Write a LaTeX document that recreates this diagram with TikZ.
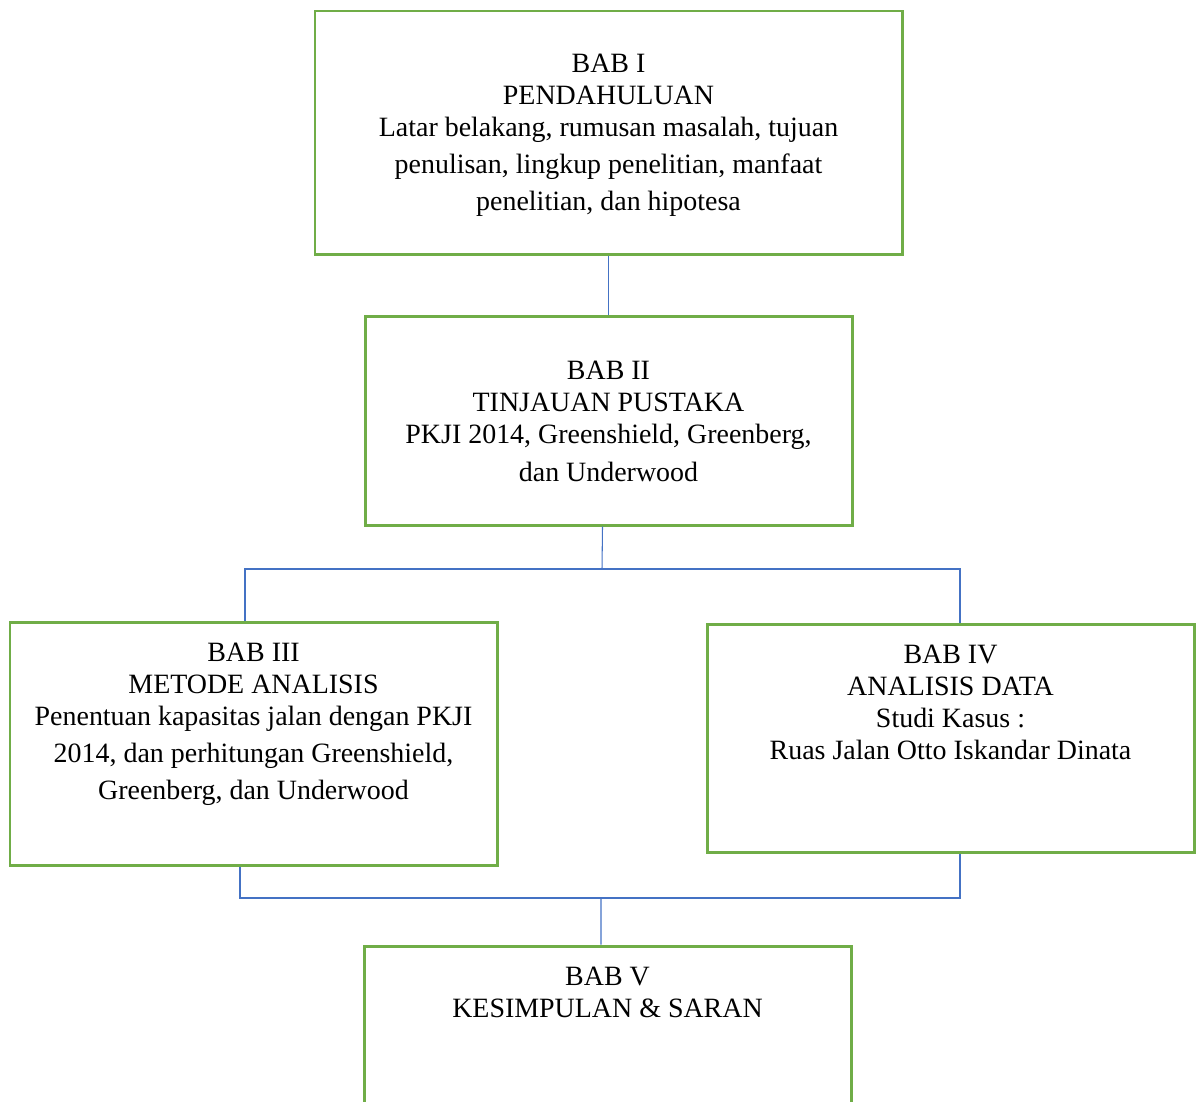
\documentclass[tikz,border=0pt]{standalone}
\usepackage{fontspec}
\setmainfont{Liberation Serif}
\usepackage{xcolor}
\usetikzlibrary{positioning}
\definecolor{boxgreen}{RGB}{112,173,71}
\definecolor{linkblue}{RGB}{68,114,196}

\begin{document}
\begin{tikzpicture}[
    babbox/.style={rectangle, draw=boxgreen, line width=1.7pt, minimum width=9.74cm, minimum height=#1, inner sep=0pt},
    babtext/.style={anchor=north, align=center, inner sep=0pt, font=\fontsize{15.9}{18.3}\selectfont},
    link/.style={draw=linkblue, line width=0.6pt}
]
\clip (0,0) rectangle (24,-22.02);
% boxes
\node[babbox=4.86cm, minimum width=11.74cm] (bab1) at (12.17,-2.65) {};
\node[babbox=4.18cm] (bab2) at (12.17,-8.41) {};
\node[babbox=4.86cm] (bab3) at (5.07,-14.87) {};
\node[babbox=4.56cm] (bab4) at (19.01,-14.76) {};
\node[babbox=4.18cm] (bab5) at (12.15,-21.01) {};
% texts
\node[babtext, below=0.88cm of bab1.north] (t1) {BAB I\\PENDAHULUAN\\Latar belakang, rumusan masalah, tujuan\\[2.5pt]penulisan, lingkup penelitian, manfaat\\[3pt]penelitian, dan hipotesa};
\node[babtext, below=0.92cm of bab2.north] (t2) {BAB II\\TINJAUAN PUSTAKA\\PKJI 2014, Greenshield, Greenberg,\\[3pt]dan Underwood};
\node[babtext, below=0.44cm of bab3.north] (t3) {BAB III\\METODE ANALISIS\\Penentuan kapasitas jalan dengan PKJI\\[2.5pt]2014, dan perhitungan Greenshield,\\[3pt]Greenberg, dan Underwood};
\node[babtext, below=0.44cm of bab4.north] (t4) {BAB IV\\ANALISIS DATA\\Studi Kasus :\\Ruas Jalan Otto Iskandar Dinata};
\node[babtext, below=0.44cm of bab5.north] (t5) {BAB V\\KESIMPULAN \& SARAN};
% connectors
\coordinate (split) at (12.04,-11.38);
\coordinate (merge) at (12.02,-17.96);
\draw[link] (bab1.south) -- (bab2.north);
\draw[link] ([xshift=-0.12cm]bab2.south) -- (split);
\draw[link] ([xshift=-0.17cm]bab3.north) |- (split) -| ([xshift=0.19cm]bab4.north);
\draw[link] ([xshift=-0.27cm]bab3.south) |- (merge) -| ([xshift=0.19cm]bab4.south);
\draw[link] (merge) -- ([xshift=-0.13cm]bab5.north);
\end{tikzpicture}
\end{document}
